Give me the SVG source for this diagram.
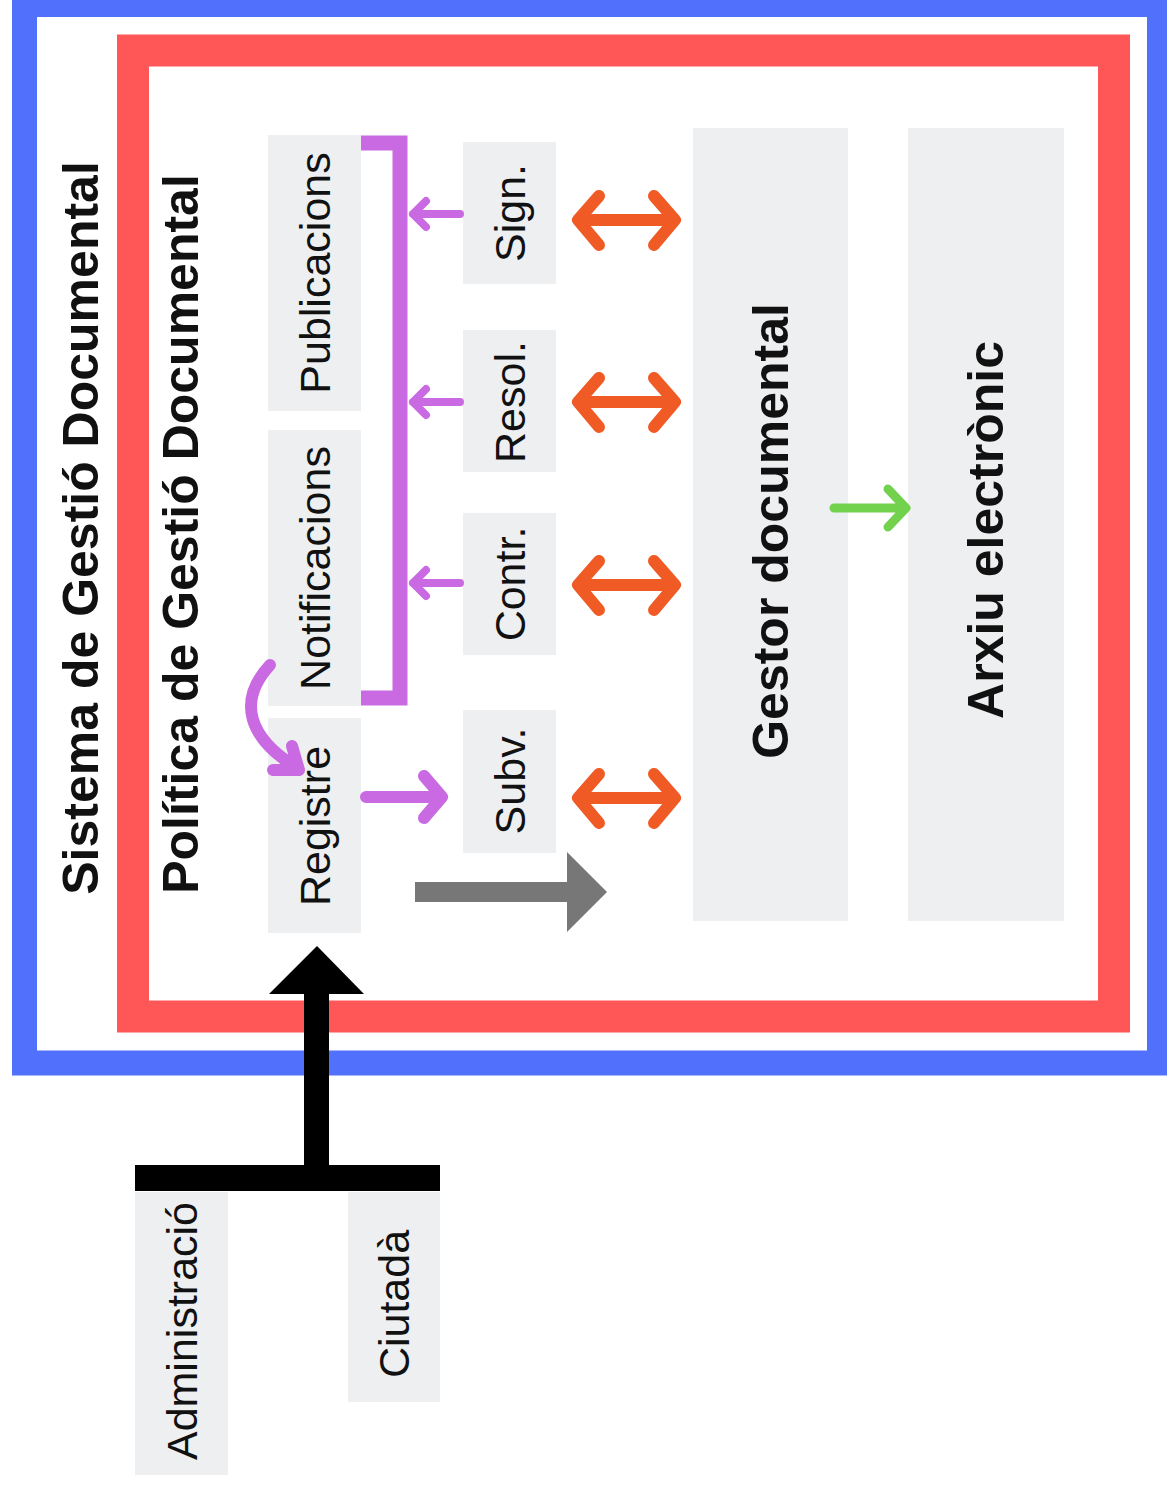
<svg xmlns="http://www.w3.org/2000/svg" width="1167" height="1486" viewBox="0 0 1167 1486">
<defs>
<style>
.box{fill:#edeff1}
.t{font-family:"Liberation Sans",Arial,sans-serif;font-size:43px;fill:#111;text-anchor:middle}
.tb{font-family:"Liberation Sans",Arial,sans-serif;font-weight:bold;fill:#111;text-anchor:middle}
.pur{stroke:#c96ae3;fill:none;stroke-linecap:round;stroke-linejoin:round}
.org{stroke:#f05a24;fill:none;stroke-width:12;stroke-linecap:round;stroke-linejoin:round}
.grn{stroke:#72d24e;fill:none;stroke-width:9;stroke-linecap:round;stroke-linejoin:round}
</style>
</defs>
<rect width="1167" height="1486" fill="#ffffff"/>
<g id="frame-sistema">
<rect x="24.5" y="4.5" width="1135" height="1058.5" fill="none" stroke="#5170fb" stroke-width="25"/>
<text class="tb" font-size="50" transform="translate(98,528) rotate(-90)">Sistema de Gestió Documental</text>
</g>
<g id="frame-politica">
<rect x="133" y="50.5" width="981" height="966" fill="none" stroke="#ff5757" stroke-width="32"/>
<text class="tb" font-size="50" transform="translate(198,534) rotate(-90)">Política de Gestió Documental</text>
</g>
<g id="publicacions"><rect class="box" x="268" y="135" width="93" height="276"/><text class="t" transform="translate(330,273) rotate(-90)">Publicacions</text></g>
<g id="notificacions"><rect class="box" x="268" y="430" width="93" height="276"/><text class="t" transform="translate(330,568) rotate(-90)">Notificacions</text></g>
<g id="registre"><rect class="box" x="268" y="718" width="93" height="215"/><text class="t" transform="translate(330,826) rotate(-90)">Registre</text></g>
<g id="sign"><rect class="box" x="463" y="142" width="93" height="142"/><text class="t" transform="translate(524.5,213) rotate(-90)">Sign.</text></g>
<g id="resol"><rect class="box" x="463" y="330" width="93" height="142"/><text class="t" transform="translate(524.5,402) rotate(-90)">Resol.</text></g>
<g id="contr"><rect class="box" x="463" y="513" width="93" height="142"/><text class="t" transform="translate(524.5,584) rotate(-90)">Contr.</text></g>
<g id="subv"><rect class="box" x="463" y="710" width="93" height="143"/><text class="t" transform="translate(524.5,781) rotate(-90)">Subv.</text></g>
<g id="gestor"><rect class="box" x="693" y="128" width="155" height="793"/><text class="tb" font-size="50" transform="translate(788,531) rotate(-90)">Gestor documental</text></g>
<g id="arxiu"><rect class="box" x="908" y="128" width="156" height="793"/><text class="tb" font-size="50" transform="translate(1003,530) rotate(-90)">Arxiu electrònic</text></g>
<g id="administracio"><rect class="box" x="135" y="1192" width="93" height="283"/><text class="t" transform="translate(196.5,1331) rotate(-90)">Administració</text></g>
<g id="ciutada"><rect class="box" x="348" y="1192" width="92" height="210"/><text class="t" transform="translate(409,1304) rotate(-90)">Ciutadà</text></g>
<g id="connectors">
<path d="M361 143 H400 V698 H361" style="stroke:#c96ae3;fill:none;stroke-width:15;stroke-linecap:butt;stroke-linejoin:miter"/>
<path class="pur" stroke-width="8" d="M460 214 H413 M426 201 L413 214 L426 227"/>
<path class="pur" stroke-width="8" d="M460 402 H413 M426 389 L413 402 L426 415"/>
<path class="pur" stroke-width="8" d="M460 583 H413 M426 570 L413 583 L426 596"/>
<path class="pur" stroke-width="12" d="M270 665 C236 702, 250 738, 294 766 M292 746 L299 770 L273 770"/>
<path class="pur" stroke-width="12" d="M366 797 H441 M424 776 L442 797 L424 818"/>
<path class="org" d="M578 220 H675 M599 196 L578 220 L599 245 M654 196 L675 220 L654 245"/>
<path class="org" d="M578 402 H675 M599 378 L578 402 L599 427 M654 378 L675 402 L654 427"/>
<path class="org" d="M578 585 H675 M599 561 L578 585 L599 610 M654 561 L675 585 L654 610"/>
<path class="org" d="M578 798 H675 M599 774 L578 798 L599 823 M654 774 L675 798 L654 823"/>
<path class="grn" d="M834 508 H905 M888 489 L906 508 L888 527"/>
<polygon fill="#777777" points="415,882 567,882 567,852 607,892 567,932 567,902 415,902"/>
<rect x="135" y="1165" width="305" height="26" fill="#000"/>
<rect x="304" y="990" width="25" height="185" fill="#000"/>
<polygon fill="#000" points="269,994 317,946 364,994"/>
</g>
</svg>
